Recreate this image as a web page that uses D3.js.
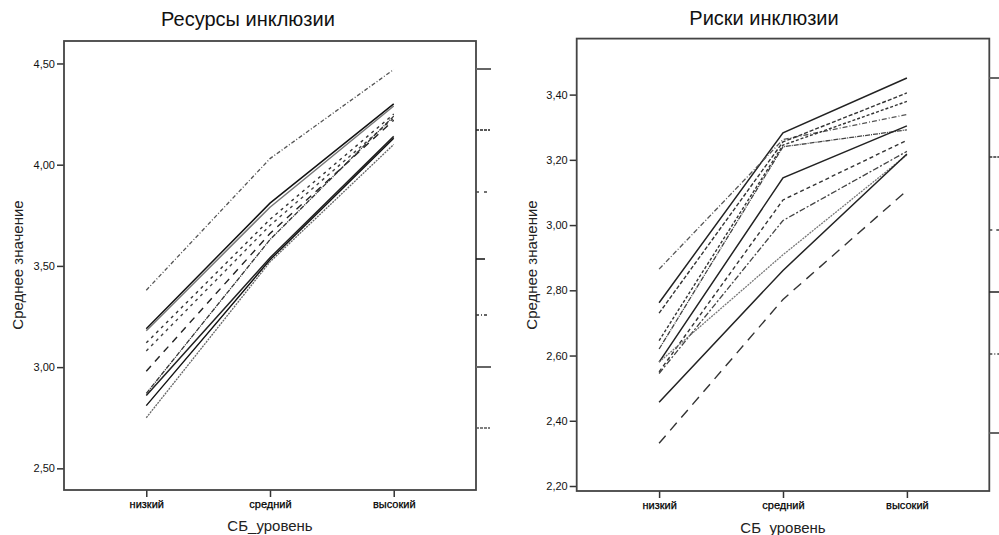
<!DOCTYPE html>
<html>
<head>
<meta charset="utf-8">
<script src="https://cdn.jsdelivr.net/npm/d3@7"></script>
<style>
  html, body { margin: 0; padding: 0; background: #fff; }
  svg { display: block; font-family: Arial, "Liberation Sans", sans-serif; }
</style>
</head>
<body>
<svg id="chart" width="999" height="535"></svg>
<script>
// ---------- DATA ----------
const categories = ["низкий", "средний", "высокий"];

const resourcesTicks = [2.5, 3.0, 3.5, 4.0, 4.5];
const risksTicks = [2.2, 2.4, 2.6, 2.8, 3.0, 3.2, 3.4];

// Ресурсы инклюзии – mean values per group (низкий, средний, высокий)
const res1 = [3.38, 4.03, 4.47];
const res2 = [3.19, 3.81, 4.30];
const res3 = [3.18, 3.79, 4.29];
const res4 = [3.12, 3.73, 4.25];
const res5 = [3.08, 3.70, 4.23];
const res6 = [2.98, 3.66, 4.22];
const res7 = [2.87, 3.63, 4.24];
const res8 = [2.86, 3.54, 4.14];
const res9 = [2.81, 3.53, 4.13];
const res10 = [2.75, 3.52, 4.10];

// Риски инклюзии
const risk1 = [2.762, 3.283, 3.451];
const risk2 = [2.865, 3.262, 3.339];
const risk3 = [2.730, 3.255, 3.405];
const risk4 = [2.646, 3.245, 3.379];
const risk5 = [2.620, 3.240, 3.292];
const risk6 = [2.580, 3.145, 3.304];
const risk7 = [2.550, 3.077, 3.260];
const risk8 = [2.545, 3.014, 3.226];
const risk9 = [2.580, 2.909, 3.215];
const risk10 = [2.457, 2.861, 3.218];
const risk11 = [2.331, 2.772, 3.106];

const resourcesSeries = [res1, res2, res3, res4, res5, res6, res7, res8, res9, res10];
const risksSeries = [risk1, risk2, risk3, risk4, risk5, risk6, risk7, risk8, risk9, risk10, risk11];

// ---------- STYLES (separate from data) ----------
const resStyles = [
  {c: "#555", w: 1.3, d: "4,2,1,2"},
  {c: "#111", w: 1.5, d: null},
  {c: "#777", w: 1.5, d: null},
  {c: "#333", w: 1.4, d: "3,4"},
  {c: "#444", w: 1.4, d: "3,4"},
  {c: "#222", w: 1.4, d: "7,6"},
  {c: "#333", w: 1.3, d: "5,1,1,1"},
  {c: "#222", w: 1.5, d: null},
  {c: "#111", w: 1.4, d: null},
  {c: "#666", w: 1.3, d: "2,1"}
];
const riskStyles = [
  {c: "#222", w: 1.5, d: null},
  {c: "#555", w: 1.3, d: "5,2,1,2"},
  {c: "#333", w: 1.4, d: "4,2"},
  {c: "#333", w: 1.4, d: "3,2"},
  {c: "#444", w: 1.3, d: "5,1,1,1"},
  {c: "#222", w: 1.5, d: null},
  {c: "#333", w: 1.4, d: "4,3"},
  {c: "#444", w: 1.3, d: "6,2,2,2"},
  {c: "#777", w: 1.3, d: "2,1"},
  {c: "#222", w: 1.5, d: null},
  {c: "#333", w: 1.4, d: "10,7"}
];
const resLegend = [
  {y: 69, c: "#666", w: 2, d: null, len: 15},
  {y: 130, c: "#222", w: 1.5, d: "3,1", len: 14},
  {y: 192, c: "#444", w: 1.5, d: "3,5", len: 14},
  {y: 259, c: "#111", w: 1.5, d: null, len: 9},
  {y: 315, c: "#333", w: 1.5, d: "3,2,1,2", len: 13},
  {y: 367, c: "#666", w: 2, d: null, len: 15},
  {y: 428, c: "#555", w: 1.5, d: "3,1", len: 14}
];
const riskLegend = [
  {y: 78, c: "#666", w: 2, d: null},
  {y: 157, c: "#333", w: 1.5, d: "3,1"},
  {y: 230, c: "#444", w: 1.5, d: "3,4"},
  {y: 292, c: "#222", w: 1.5, d: null},
  {y: 354, c: "#444", w: 1.5, d: "3,2,1,2"},
  {y: 433, c: "#666", w: 2, d: null}
];

// ---------- DRAW ----------
const svg = d3.select("#chart");
const ru = d3.formatLocale({decimal: ",", thousands: " ", grouping: [3], currency: ["", ""]});
const fmt = ru.format(".2f");

function panel(cfg) {
  const x = d3.scalePoint().domain(categories).range([cfg.x0, cfg.x1]).padding(0.665);
  const y = d3.scaleLinear().domain(cfg.domain).range([cfg.y1, cfg.y0]);
  const g = svg.append("g");

  // lines
  const line = d3.line().x((v, i) => x(categories[i])).y(v => y(v));
  cfg.series.forEach((s, i) => {
    const st = cfg.styles[i];
    g.append("path").attr("d", line(s)).attr("fill", "none")
      .attr("stroke", st.c).attr("stroke-width", st.w)
      .attr("stroke-dasharray", st.d);
  });

  // axes
  const ya = g.append("g").attr("transform", `translate(${cfg.x0},0)`)
    .call(d3.axisLeft(y).tickValues(cfg.ticks).tickSize(7).tickPadding(2).tickFormat(fmt));
  ya.select(".domain").remove();
  ya.selectAll("line").attr("stroke", "#333").attr("stroke-width", 1.5);
  ya.selectAll("text").attr("font-size", 11).attr("fill", "#111")
    .attr("font-family", "Arial, 'Liberation Sans', sans-serif");

  const xa = g.append("g").attr("transform", `translate(0,${cfg.y1})`)
    .call(d3.axisBottom(x).tickSize(7).tickPadding(3));
  xa.select(".domain").remove();
  xa.selectAll("line").attr("stroke", "#333").attr("stroke-width", 1.5);
  xa.selectAll("text").attr("font-size", 11).attr("fill", "#000")
    .attr("stroke", "#000").attr("stroke-width", 0.25)
    .attr("font-family", "Arial, 'Liberation Sans', sans-serif");

  // frame
  g.append("rect").attr("x", cfg.x0).attr("y", cfg.y0)
    .attr("width", cfg.x1 - cfg.x0).attr("height", cfg.y1 - cfg.y0)
    .attr("fill", "none").attr("stroke", "#444").attr("stroke-width", 1.8);

  // legend samples (cut off at the right)
  cfg.legend.forEach(l => {
    g.append("line").attr("x1", cfg.x1).attr("x2", cfg.x1 + (l.len || 12))
      .attr("y1", l.y).attr("y2", l.y)
      .attr("stroke", l.c).attr("stroke-width", l.w).attr("stroke-dasharray", l.d);
  });

  // titles
  g.append("text").attr("x", cfg.titleX).attr("y", cfg.titleY)
    .attr("text-anchor", "middle").attr("font-size", 20).attr("fill", "#111")
    .text(cfg.title);
  g.append("text").attr("x", x("средний")).attr("y", cfg.xTitleY)
    .attr("text-anchor", "middle").attr("font-size", 15).attr("fill", "#222")
    .text("СБ_уровень");
  g.append("text")
    .attr("transform", `translate(${cfg.yTitleX},${cfg.yTitleY}) rotate(-90)`)
    .attr("text-anchor", "middle").attr("font-size", 15).attr("fill", "#222")
    .text("Среднее значение");
}

panel({
  x0: 64, x1: 476, y0: 41, y1: 490, domain: [2.393, 4.611],
  ticks: resourcesTicks, series: resourcesSeries, styles: resStyles, legend: resLegend,
  title: "Ресурсы инклюзии", titleX: 248, titleY: 26, xTitleY: 531, yTitleX: 23, yTitleY: 265
});
panel({
  x0: 576.7, x1: 989.3, y0: 38.6, y1: 491, domain: [2.1847, 3.5717],
  ticks: risksTicks, series: risksSeries, styles: riskStyles, legend: riskLegend,
  title: "Риски инклюзии", titleX: 764, titleY: 25, xTitleY: 533, yTitleX: 537, yTitleY: 265
});
</script>
</body>
</html>
